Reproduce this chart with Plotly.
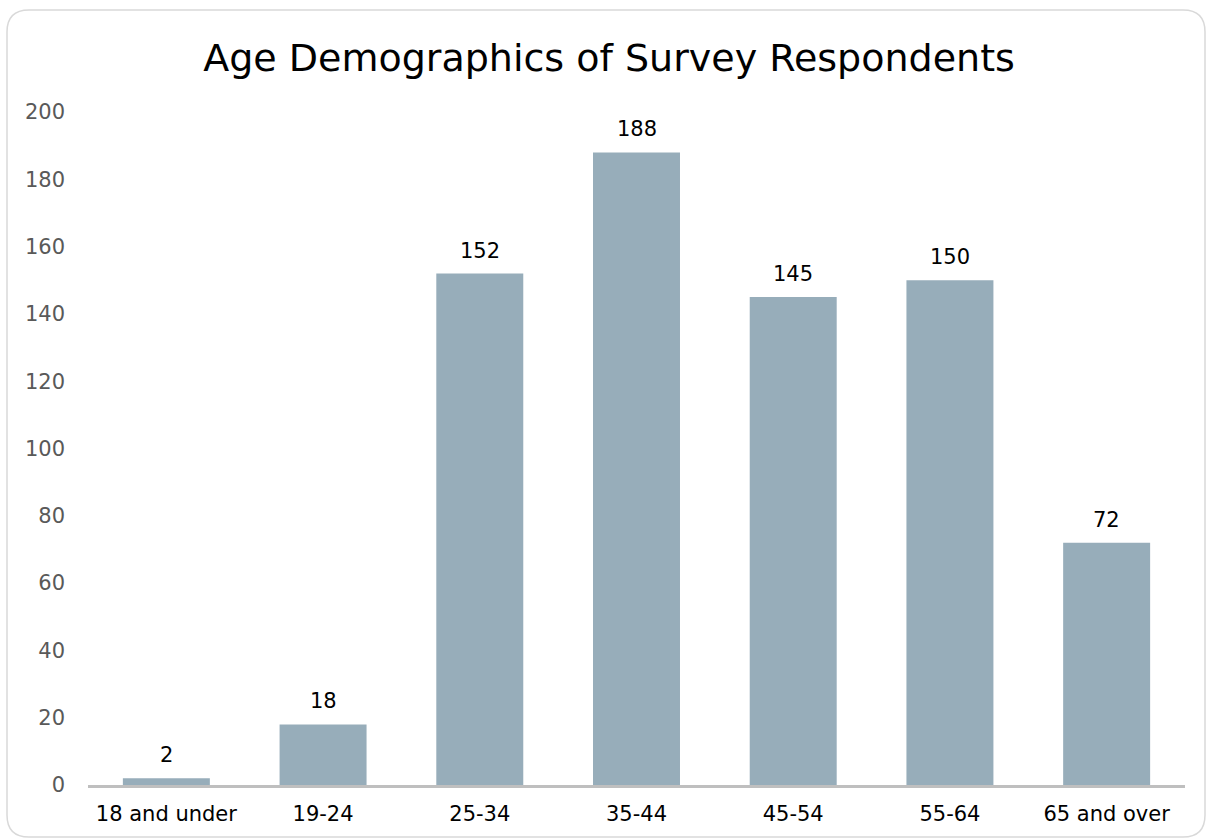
import plotly.graph_objects as go

categories = ["18 and under", "19-24", "25-34", "35-44", "45-54", "55-64", "65 and over"]
respondents = [2, 18, 152, 188, 145, 150, 72]
y_ticks = [0, 20, 40, 60, 80, 100, 120, 140, 160, 180, 200]

W, H = 1206, 839
L, R, T, B = 88, 21, 112, 54
pw, ph = W - L - R, H - T - B

def px(x):
    return (x - L) / pw

def py(y):
    return (H - B - y) / ph

# rounded card border
x0, x1, y0, y1, r = 7, 1205, 10, 837, 22
path = (
    f"M {px(x0 + r)},{py(y0)} L {px(x1 - r)},{py(y0)} "
    f"Q {px(x1)},{py(y0)} {px(x1)},{py(y0 + r)} "
    f"L {px(x1)},{py(y1 - r)} Q {px(x1)},{py(y1)} {px(x1 - r)},{py(y1)} "
    f"L {px(x0 + r)},{py(y1)} Q {px(x0)},{py(y1)} {px(x0)},{py(y1 - r)} "
    f"L {px(x0)},{py(y0 + r)} Q {px(x0)},{py(y0)} {px(x0 + r)},{py(y0)} Z"
)

font_family = "DejaVu Sans, Verdana, sans-serif"

fig = go.Figure(
    go.Bar(
        x=categories,
        y=respondents,
        marker=dict(color="#97adba", line=dict(width=0)),
        hoverinfo="x+y",
    )
)

for c, v in zip(categories, respondents):
    fig.add_annotation(
        x=c, y=v, text=str(v), showarrow=False, yanchor="bottom", yshift=9,
        font=dict(size=21, color="#000000", family=font_family),
    )

fig.add_shape(type="path", path=path, xref="paper", yref="paper",
              line=dict(color="#d9d9d9", width=1.5), layer="below")

fig.update_layout(
    width=W, height=H,
    margin=dict(l=L, r=R, t=T, b=B),
    paper_bgcolor="white", plot_bgcolor="white",
    bargap=0.445,
    showlegend=False,
    title=dict(text="Age Demographics of Survey Respondents", x=0.505, xanchor="center",
               y=1 - 58 / H, yanchor="middle",
               font=dict(size=38, color="#000000", family=font_family)),
    xaxis=dict(
        showline=True, linecolor="#bfbfbf", linewidth=2.5,
        ticks="", showgrid=False, ticklabelstandoff=8,
        tickfont=dict(size=21, color="#000000", family=font_family),
    ),
    yaxis=dict(
        range=[0, 200], tickvals=y_ticks, showgrid=False, zeroline=False,
        showline=False, ticks="", ticklabelstandoff=22,
        tickfont=dict(size=21, color="#595959", family=font_family),
    ),
)

fig.write_html("out.html", config={"displayModeBar": False},
               post_script="document.body.style.margin='0';")
